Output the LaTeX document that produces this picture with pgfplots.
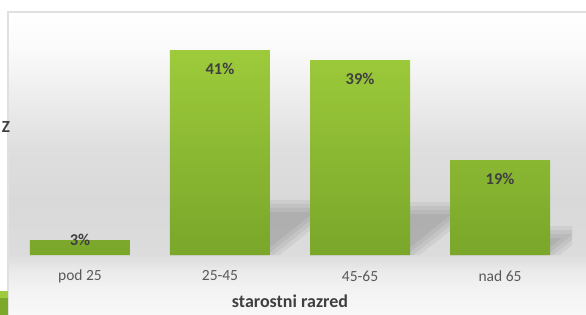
\documentclass[border=0pt]{standalone}
\usepackage{pgfplots}
\pgfplotsset{compat=1.18}
\usepackage{fontspec}
\setmainfont{Carlito}
\definecolor{barTop}{HTML}{9DCB3B}
\definecolor{barBot}{HTML}{7AA62A}
\definecolor{tickc}{HTML}{595959}
\definecolor{titlec}{HTML}{404040}
\definecolor{bgA}{HTML}{F8F8F8}
\definecolor{bgB}{HTML}{F3F3F3}
\definecolor{bgC}{HTML}{EAEAEA}
\definecolor{bgD}{HTML}{DCDCDC}
\definecolor{bgE}{HTML}{D9D9D9}
\definecolor{bgF}{HTML}{DEDEDE}
\definecolor{bgG}{HTML}{ECECEC}
\definecolor{bgH}{HTML}{FAFAFA}
\pgfdeclareverticalshading{bg}{578pt}{color(0pt)=(bgA); color(24pt)=(bgB); color(44pt)=(bgC); color(59pt)=(bgD); color(114pt)=(bgE); color(164pt)=(bgF); color(214pt)=(bgG); color(264pt)=(bgH); color(302pt)=(white)}
\pgfplotsset{shad/.style={fill=black, fill opacity=0.05, draw=none, forget plot}}
\begin{document}
\begin{tikzpicture}
\useasboundingbox (0,0) rectangle (586pt,-314pt);
\begin{scope}
\clip (0,0) rectangle (586pt,-314pt);
\node[inner sep=0, anchor=north west] at (8pt,-12pt) {\pgfuseshading{bg}};
\draw[color=black!12, line width=1.5pt] (8pt,-320pt) -- (8pt,-12pt) -- (590pt,-12pt);
\node[font=\bfseries\fontsize{17}{20}\selectfont, text=titlec, inner sep=0] at (6pt,-127pt) {Z};
\fill[barTop] (-2pt,-291pt) rectangle (8pt,-298pt);
\fill[barBot!95!barTop] (-2pt,-298pt) rectangle (8pt,-320pt);
\end{scope}
\begin{axis}[
  at={(8pt,-255pt)}, anchor=south west,
  scale only axis, width=564pt, height=243pt,
  xmin=-0.514, xmax=3.514, ymin=0, ymax=48.6,
  axis line style={draw=none},
  ytick=\empty,
  xtick={0,1,2,3},
  xticklabels={pod 25,25-45,45-65,nad 65},
  major tick length=0pt,
  xticklabel style={anchor=center, yshift=-21pt, text=tickc, font=\fontsize{15.5}{18}\selectfont},
  xlabel={starostni razred},
  xlabel style={at={(axis description cs:0.5,0)}, anchor=center, yshift=-46pt, text=titlec, font=\bfseries\fontsize{18}{21}\selectfont},
]
% soft perspective shadows (layered)
\addplot[shad] coordinates {(0.643,0) (1.4256,0) (1.9226,11.04) (1.140,11.04)} -- cycle;
\addplot[shad] coordinates {(0.643,0) (1.3799,0) (1.8409,10.24) (1.104,10.24)} -- cycle;
\addplot[shad] coordinates {(0.643,0) (1.3341,0) (1.7591,9.44) (1.068,9.44)} -- cycle;
\addplot[shad] coordinates {(0.643,0) (1.2884,0) (1.6774,8.64) (1.032,8.64)} -- cycle;
\addplot[shad] coordinates {(1.643,0) (2.4256,0) (2.8994,10.56) (2.1168,10.56)} -- cycle;
\addplot[shad] coordinates {(1.643,0) (2.3799,0) (2.8178,9.76) (2.0809,9.76)} -- cycle;
\addplot[shad] coordinates {(1.643,0) (2.3341,0) (2.7362,8.96) (2.0451,8.96)} -- cycle;
\addplot[shad] coordinates {(1.643,0) (2.2884,0) (2.6546,8.16) (2.0092,8.16)} -- cycle;
\addplot[shad] coordinates {(2.643,0) (3.4256,0) (3.6845,5.76) (2.9019,5.76)} -- cycle;
\addplot[shad] coordinates {(2.643,0) (3.3799,0) (3.6029,4.96) (2.866,4.96)} -- cycle;
\addplot[shad] coordinates {(2.643,0) (3.3341,0) (3.5211,4.16) (2.830,4.16)} -- cycle;
\addplot[shad] coordinates {(2.643,0) (3.2884,0) (3.4394,3.36) (2.794,3.36)} -- cycle;
% bars
\addplot[ybar, bar width=100pt, draw=none, top color=barTop, bottom color=barBot] coordinates {(0,3) (1,41) (2,39) (3,19)};
% data labels
\addplot[draw=none, mark=none, point meta=explicit symbolic, nodes near coords,
  every node near coord/.style={anchor=center, yshift=-19pt, text=titlec, font=\bfseries\fontsize{16.5}{19}\selectfont}]
  coordinates {(1,41) [41\%] (2,39) [39\%] (3,19) [19\%]};
\addplot[draw=none, mark=none, point meta=explicit symbolic, nodes near coords,
  every node near coord/.style={anchor=center, yshift=0pt, text=titlec, font=\bfseries\fontsize{16.5}{19}\selectfont}]
  coordinates {(0,3) [3\%]};
\end{axis}
\end{tikzpicture}
\end{document}
